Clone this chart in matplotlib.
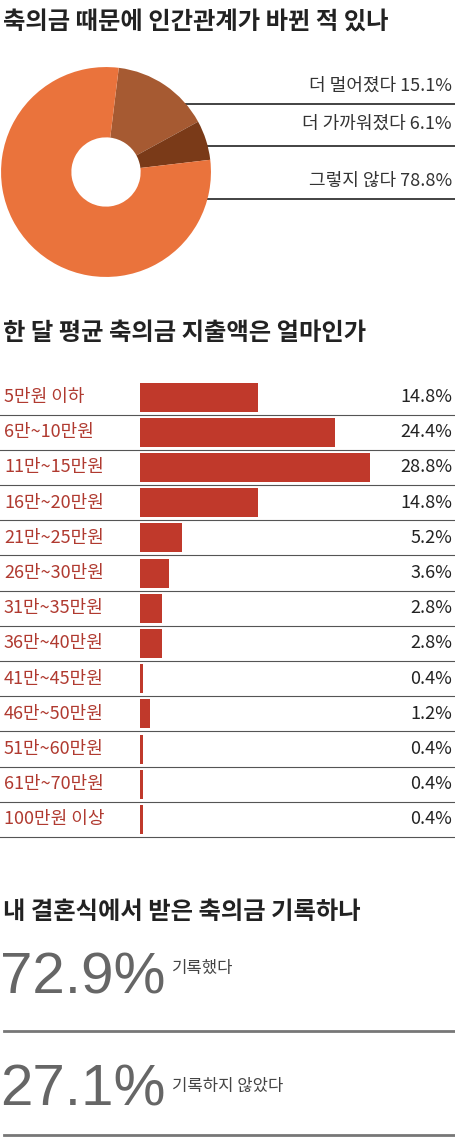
import matplotlib
matplotlib.use('Agg')
import matplotlib.pyplot as plt

plt.rcParams['font.family'] = ['Noto Sans CJK KR', 'DejaVu Sans']

W, H = 455, 1138

# data
pie_labels = ['더 멀어졌다', '더 가까워졌다', '그렇지 않다']
pie_values = [15.1, 6.1, 78.8]
pie_colors = ['#a65a32', '#7a3a18', '#ea733c']

bar_labels = ['5만원 이하', '6만~10만원', '11만~15만원', '16만~20만원', '21만~25만원',
              '26만~30만원', '31만~35만원', '36만~40만원', '41만~45만원', '46만~50만원',
              '51만~60만원', '61만~70만원', '100만원 이상']
bar_values = [14.8, 24.4, 28.8, 14.8, 5.2, 3.6, 2.8, 2.8, 0.4, 1.2, 0.4, 0.4, 0.4]

rec_values = [72.9, 27.1]
rec_labels = ['기록했다', '기록하지 않았다']

fig = plt.figure(figsize=(W / 100, H / 100), dpi=100)
ax = fig.add_axes([0, 0, 1, 1])
ax.set_xlim(0, W)
ax.set_ylim(H, 0)
ax.axis('off')

title_fs = 17.5

# --- section 1: donut
ax.text(3, 22, '축의금 때문에 인간관계가 바뀐 적 있나', fontsize=title_fs, fontweight='bold',
        color='#222222', va='center')
pax = fig.add_axes([0 / W, 1 - 278 / H, 212 / W, 212 / H])
pax.pie(pie_values, colors=pie_colors, startangle=83, counterclock=False,
        wedgeprops=dict(width=0.67, edgecolor='none'))
pax.set_xlim(-1.01, 1.01)
pax.set_ylim(-1.01, 1.01)
pax.set_aspect('equal')

line_y = [104, 146, 199]
line_x0 = [158, 180, 152]
text_y = [86, 124, 181]
for lab, v, ly, lx, ty in zip(pie_labels, pie_values, line_y, line_x0, text_y):
    ax.plot([lx, W], [ly, ly], color='#222222', lw=1.2)
    ax.text(452, ty, f'{lab} {v}%', fontsize=13, color='#333333', ha='right', va='center')

# --- section 2: bars
ax.text(3, 333, '한 달 평균 축의금 지출액은 얼마인가', fontsize=title_fs, fontweight='bold',
        color='#222222', va='center')
row0, step = 397, 35.2
scale = 230 / 28.8
ys = [row0 + i * step for i in range(len(bar_values))]
ax.barh(ys, [v * scale for v in bar_values], left=140, height=29, color='#c0392b')
for y, lab, v in zip(ys, bar_labels, bar_values):
    ax.text(4, y, lab, fontsize=13, color='#b03a30', va='center')
    ax.text(452, y, f'{v}%', fontsize=13, color='#222222', ha='right', va='center')
    ax.plot([0, W], [y + step / 2, y + step / 2], color='#555555', lw=0.8)

# --- section 3: records
ax.text(3, 912, '내 결혼식에서 받은 축의금 기록하나', fontsize=title_fs, fontweight='bold',
        color='#222222', va='center')
big_y = [978, 1090]
small_x = [172, 172]
sep_y = [1031, 1135]
for v, lab, by, sx, sy in zip(rec_values, rec_labels, big_y, small_x, sep_y):
    ax.text(0, by, f'{v}%', fontsize=42, color='#666666', va='center',
            family=['Liberation Sans', 'DejaVu Sans'])
    ax.text(sx, by - 10 if v > 50 else by - 4, lab, fontsize=12, color='#444444', va='center')
    ax.plot([4, W], [sy, sy], color='#777777', lw=2)

fig.savefig('out.png', dpi=100)
